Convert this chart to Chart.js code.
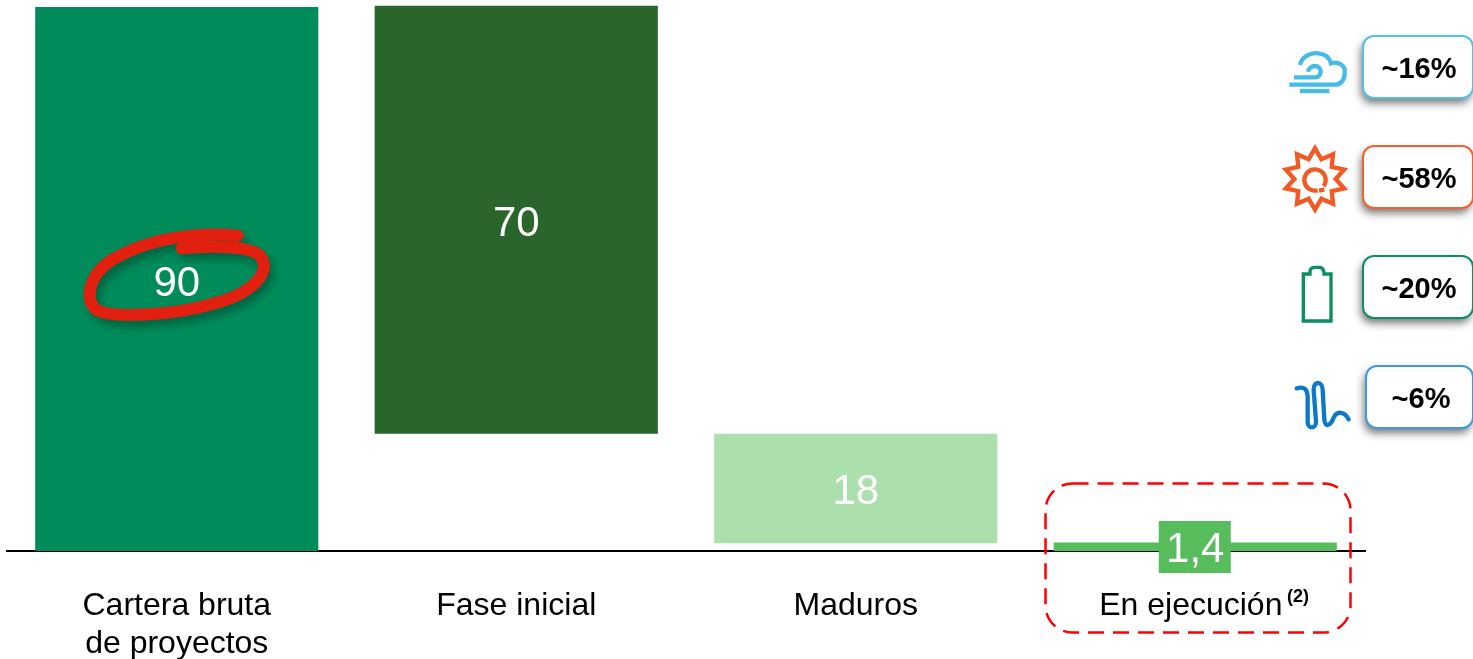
<!DOCTYPE html>
<html lang="es"><head><meta charset="utf-8">
<style>html,body{margin:0;padding:0;background:#fff}canvas{display:block}</style>
<script src="https://cdn.jsdelivr.net/npm/chart.js@4/dist/chart.umd.js"></script>
</head><body><canvas id="c" width="1473" height="659"></canvas>
<script>
const categories = [['Cartera bruta','de proyectos'],'Fase inicial','Maduros','En ejecución '];
const barStart = [0, 19.4, 1.3, 0];
const barEnd = [90, 90.2, 19.4, 1.4];
const valueLabels = ['90','70','18','1,4'];
const barColors = ['#008C5A','#2A652B','#ABDFAB','#57BC5C'];
const shareLabels = ['~16%','~58%','~20%','~6%'];
const shareColors = ['#55BEEA','#F4622B','#0A8F5F','#3F9ADB'];
const footnoteMark = '(2)';
const FONT = '"Liberation Sans", Arial, sans-serif';

function rr(ctx,x,y,w,h,r){ctx.beginPath();ctx.roundRect(x,y,w,h,r);}
function withZoom(ctx,ox,oy,fn){ctx.save();ctx.translate(ox,oy);ctx.scale(1/3,1/3);ctx.lineCap='butt';ctx.lineJoin='miter';fn();ctx.restore();}

function drawIcons(ctx){
  // wind + cloud
  withZoom(ctx,1270,20,()=>{
    ctx.strokeStyle='#45BBE8';ctx.lineWidth=13;
    ctx.beginPath();ctx.moveTo(90,135);ctx.bezierCurveTo(95,110,122,97,145,100);
    ctx.bezierCurveTo(165,102,178,112,183,130);ctx.bezierCurveTo(205,122,228,138,224,160);
    ctx.bezierCurveTo(224,180,212,194,195,194);ctx.lineTo(58,194);ctx.stroke();
    ctx.beginPath();ctx.moveTo(72,172);ctx.lineTo(135,172);ctx.bezierCurveTo(155,172,160,140,135,138);
    ctx.bezierCurveTo(125,138,115,145,115,155);ctx.stroke();
    ctx.beginPath();ctx.moveTo(90,213);ctx.lineTo(178,213);ctx.stroke();
  });
  // sun
  withZoom(ctx,1270,20,()=>{
    ctx.strokeStyle='#F15A24';ctx.lineWidth=13;
    const cx=135,cy=477,n=10;
    ctx.beginPath();
    for(let i=0;i<n*2;i++){const r=i%2?62:92,a=-Math.PI/2+i*Math.PI/n;
      const x=cx+r*Math.cos(a),y=cy+r*Math.sin(a);i?ctx.lineTo(x,y):ctx.moveTo(x,y);}
    ctx.closePath();ctx.stroke();
    ctx.lineWidth=13;
    ctx.beginPath();ctx.arc(cx,cy+3,32,Math.PI*0.42,Math.PI*2.2);ctx.stroke();
    ctx.beginPath();ctx.moveTo(cx+12,cy+35);ctx.lineTo(cx+28,cy+32);ctx.stroke();
  });
  // battery
  withZoom(ctx,1270,240,()=>{
    ctx.strokeStyle='#0A8F5F';ctx.lineWidth=10;
    ctx.beginPath();ctx.moveTo(100,243);ctx.lineTo(100,102);ctx.lineTo(120,102);ctx.lineTo(120,92);
    ctx.quadraticCurveTo(122,82,135,82);ctx.lineTo(150,82);ctx.quadraticCurveTo(162,84,162,102);
    ctx.lineTo(183,102);ctx.lineTo(183,243);ctx.closePath();ctx.stroke();
  });
  // wave
  withZoom(ctx,1270,240,()=>{
    ctx.strokeStyle='#0B79C8';ctx.lineWidth=13;ctx.lineCap='round';ctx.lineJoin='round';
    ctx.beginPath();ctx.moveTo(80,445);ctx.bezierCurveTo(105,438,113,450,113,475);ctx.lineTo(113,545);
    ctx.bezierCurveTo(113,568,138,568,138,545);ctx.lineTo(131,450);
    ctx.bezierCurveTo(129,422,158,422,158,450);ctx.lineTo(163,540);
    ctx.bezierCurveTo(166,565,183,555,190,535);ctx.bezierCurveTo(200,510,225,515,236,538);ctx.stroke();
  });
}

const overlay = {
  id:'overlay',
  afterDraw(chart){
    const ctx=chart.ctx,xs=chart.scales.x,ys=chart.scales.y;
    ctx.save();
    // dashed highlight
    ctx.save();ctx.strokeStyle='#FF0000';ctx.lineWidth=2.5;ctx.setLineDash([16,9]);
    rr(ctx,1045.5,483.5,305,149,27);ctx.stroke();ctx.restore();
    // value labels
    ctx.textAlign='center';ctx.textBaseline='middle';
    const offs=[4,4,3,0];
    valueLabels.forEach((t,i)=>{
      const x=xs.getPixelForValue(i);
      const y=i===3?ys.getPixelForValue(barEnd[i])+7:(ys.getPixelForValue(barStart[i])+ys.getPixelForValue(barEnd[i]))/2+offs[i];
      if(i===3){ctx.fillStyle=barColors[3];ctx.fillRect(x-36.5,521,72,52);}
      ctx.fillStyle='#fff';ctx.font='42px '+FONT;ctx.fillText(t,x,y+1);
    });
    // superscript
    ctx.fillStyle='#000';ctx.font='bold 18px '+FONT;ctx.textAlign='left';ctx.fillText(footnoteMark,1287,597);
    // red scribble
    withZoom(ctx,70,215,()=>{
      ctx.save();ctx.shadowColor='rgba(0,0,0,.3)';ctx.shadowBlur=8;ctx.shadowOffsetX=4;ctx.shadowOffsetY=6;
      ctx.strokeStyle='#E2200F';ctx.lineWidth=36;ctx.lineCap='round';ctx.lineJoin='round';
      ctx.beginPath();ctx.moveTo(503,62);ctx.bezierCurveTo(400,52,250,62,130,132);
      ctx.bezierCurveTo(60,175,38,250,80,285);ctx.bezierCurveTo(130,310,300,303,430,266);
      ctx.bezierCurveTo(550,235,605,170,572,125);ctx.bezierCurveTo(550,95,440,90,335,100);ctx.stroke();
      ctx.restore();
    });
    // share boxes
    const boxes=[[1363,36],[1363,146],[1363,256],[1366,366]];
    shareLabels.forEach((t,i)=>{
      const [x,y]=boxes[i],w=1473-x,h=62;
      ctx.save();ctx.shadowColor='rgba(0,0,0,.55)';ctx.shadowBlur=9;ctx.shadowOffsetX=-2;ctx.shadowOffsetY=5;
      ctx.fillStyle='#fff';rr(ctx,x,y,w,h,11);ctx.fill();ctx.restore();
      ctx.strokeStyle=shareColors[i];ctx.lineWidth=2;rr(ctx,x,y,w,h,11);ctx.stroke();
      ctx.fillStyle='#000';ctx.font='bold 29px '+FONT;ctx.textAlign='center';ctx.textBaseline='middle';
      ctx.fillText(t,i===3?1421:1419,y+34);
    });
    drawIcons(ctx);
    ctx.restore();
  }
};

new Chart(document.getElementById('c'),{
  type:'bar',
  data:{labels:categories,datasets:[{
    data:barStart.map((s,i)=>[s,barEnd[i]]),
    backgroundColor:barColors,borderWidth:0,
    barPercentage:0.834,categoryPercentage:1
  }]},
  options:{
    responsive:false,animation:false,
    layout:{padding:{left:7,right:108,top:1,bottom:0}},
    plugins:{legend:{display:false},tooltip:{enabled:false}},
    scales:{
      x:{
        grid:{display:false},
        border:{display:true,color:'#000',width:2},
        afterFit(s){s.height=108;},
        ticks:{color:'#000',padding:28,maxRotation:0,autoSkip:false,font:{family:FONT,size:32,lineHeight:1.19}}
      },
      y:{display:false,min:0,max:91}
    }
  },
  plugins:[overlay]
});
</script></body></html>
